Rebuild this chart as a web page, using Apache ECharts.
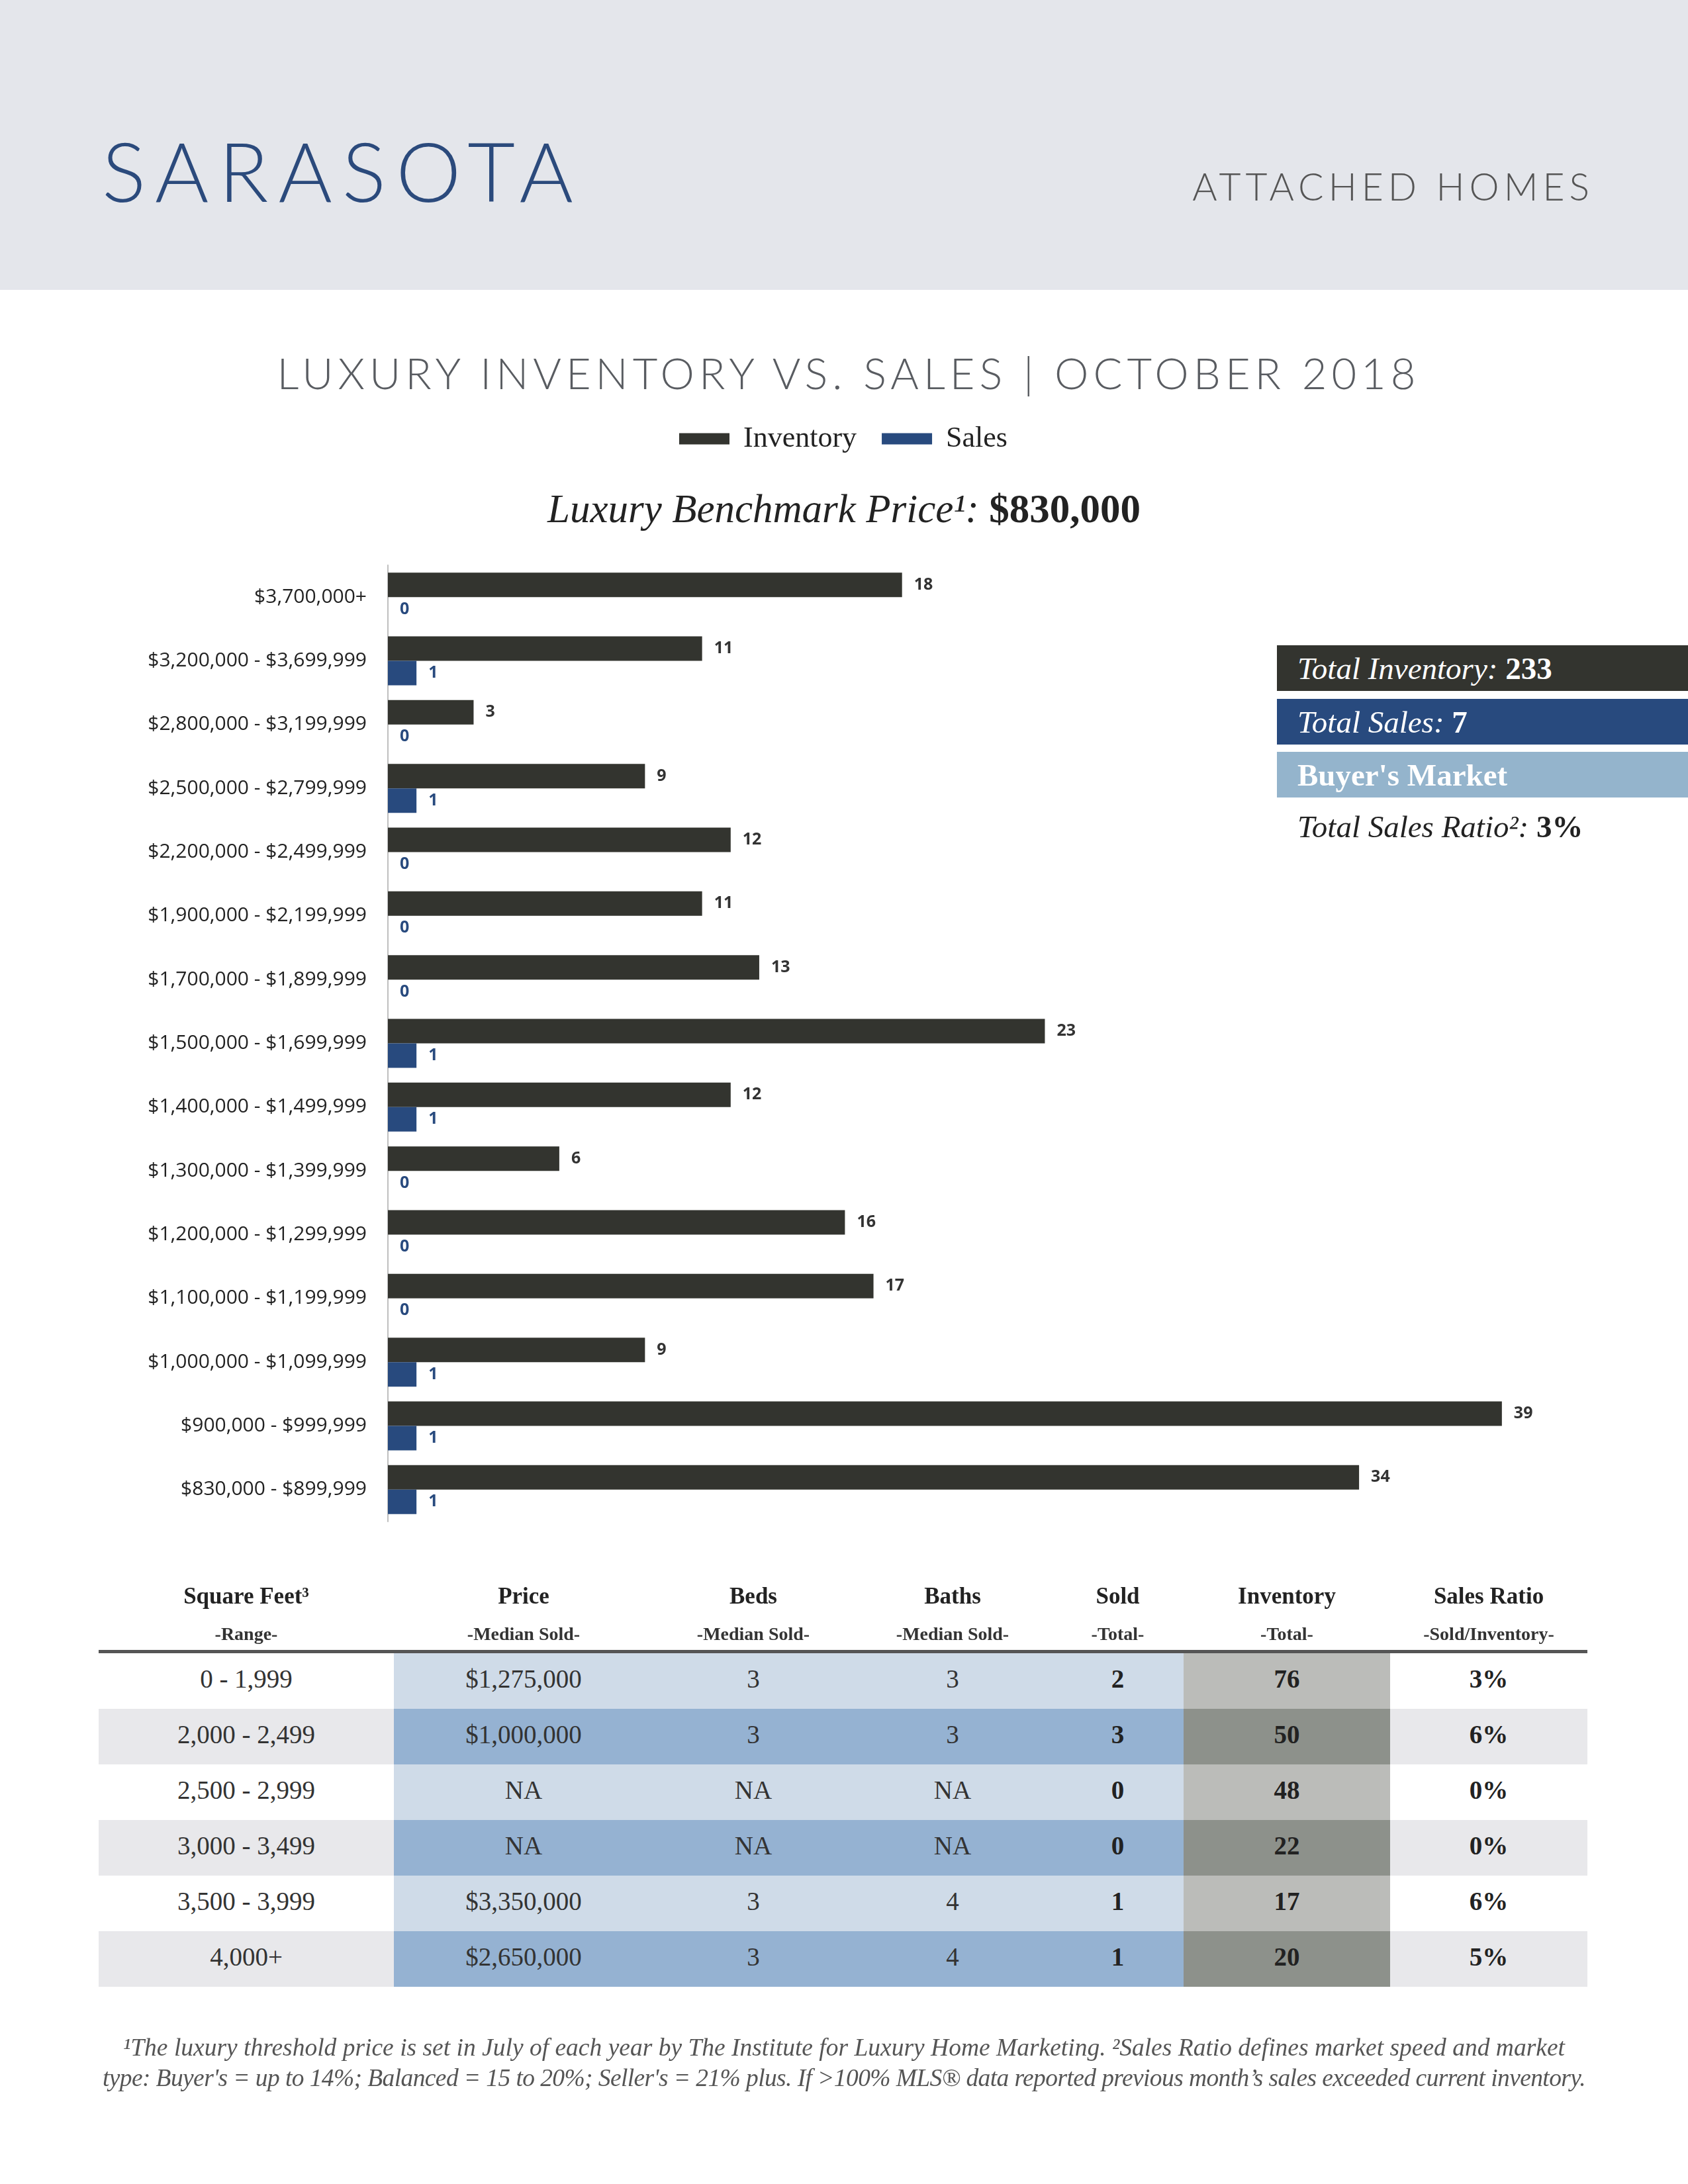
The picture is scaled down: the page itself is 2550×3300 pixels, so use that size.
<!DOCTYPE html>
<html><head><meta charset="utf-8">
<script src="https://cdn.jsdelivr.net/npm/echarts@6/dist/echarts.min.js"></script>
<style>
html,body{margin:0;padding:0;width:2550px;height:3300px;background:#fff;overflow:hidden}
#band{position:absolute;left:0;top:0;width:2550px;height:438px;background:#e4e6eb;z-index:0}
#chart{position:absolute;left:0;top:0;width:2550px;height:3300px;z-index:1}
.t{position:absolute;line-height:1;white-space:nowrap;z-index:2}
.serif{font-family:"Liberation Serif","Times New Roman",serif}
.box{position:absolute;left:1929px;width:621px;height:69px;z-index:2;display:flex;align-items:center;box-sizing:border-box;padding-left:31px;font-family:"Liberation Serif",serif;font-size:47px;color:#fff;white-space:nowrap}
.cell{position:absolute;z-index:2;display:flex;align-items:center;justify-content:center;font-family:"Liberation Serif",serif;white-space:nowrap;box-sizing:border-box}
</style></head>
<body>
<div id="band"></div>
<div id="chart"></div>
<div class="t" style="left:154px;top:195px;font-family:Lato,sans-serif;font-weight:300;font-size:124px;letter-spacing:15px;color:#2b4a7c">SARASOTA</div>
<div class="t" style="right:142px;top:253px;font-family:Lato,sans-serif;font-weight:300;font-size:57px;letter-spacing:7px;color:#555">ATTACHED HOMES</div>
<div class="t" style="left:7px;width:2550px;text-align:center;top:531px;font-family:Lato,sans-serif;font-weight:300;font-size:65px;letter-spacing:7px;color:#595c61">LUXURY INVENTORY VS. SALES | OCTOBER 2018</div>
<div class="t serif" style="left:0;width:2550px;text-align:center;top:738px;font-size:61px;color:#222"><i>Luxury Benchmark Price¹:</i> <b>$830,000</b></div>

<div class="box" style="top:975px;background:#33342f"><i>Total Inventory:</i>&nbsp;<b>233</b></div>
<div class="box" style="top:1056px;background:#284a7e"><i>Total Sales:</i>&nbsp;<b>7</b></div>
<div class="box" style="top:1136px;background:#94b4cc"><b>Buyer's Market</b></div>
<div class="box" style="top:1214px;color:#222"><i>Total Sales Ratio²:</i>&nbsp;<b>3%</b></div>

<div id="table"></div>

<div class="t serif" style="left:0;width:2550px;text-align:center;top:3075px;font-size:37.5px;color:#555;font-style:italic">¹The luxury threshold price is set in July of each year by The Institute for Luxury Home Marketing. ²Sales Ratio defines market speed and market</div>
<div class="t serif" style="left:0;width:2550px;text-align:center;top:3121px;font-size:37.5px;letter-spacing:-0.6px;color:#555;font-style:italic">type: Buyer's = up to 14%; Balanced = 15 to 20%; Seller's = 21% plus. If &gt;100% MLS® data reported previous month’s sales exceeded current inventory.</div>

<script>
// ---- chart data ----
var categories = ['$3,700,000+','$3,200,000 - $3,699,999','$2,800,000 - $3,199,999','$2,500,000 - $2,799,999','$2,200,000 - $2,499,999','$1,900,000 - $2,199,999','$1,700,000 - $1,899,999','$1,500,000 - $1,699,999','$1,400,000 - $1,499,999','$1,300,000 - $1,399,999','$1,200,000 - $1,299,999','$1,100,000 - $1,199,999','$1,000,000 - $1,099,999','$900,000 - $999,999','$830,000 - $899,999'];
var inventory = [18,11,3,9,12,11,13,23,12,6,16,17,9,39,34];
var sales = [0,1,0,1,0,0,0,1,1,0,0,0,1,1,1];

// ---- table data ----
var tableHeaders = ['Square Feet³','Price','Beds','Baths','Sold','Inventory','Sales Ratio'];
var tableSubHeaders = ['-Range-','-Median Sold-','-Median Sold-','-Median Sold-','-Total-','-Total-','-Sold/Inventory-'];
var sqftRange = ['0 - 1,999','2,000 - 2,499','2,500 - 2,999','3,000 - 3,499','3,500 - 3,999','4,000+'];
var medianPrice = ['$1,275,000','$1,000,000','NA','NA','$3,350,000','$2,650,000'];
var medianBeds = ['3','3','NA','NA','3','3'];
var medianBaths = ['3','3','NA','NA','4','4'];
var soldTotal = ['2','3','0','0','1','1'];
var inventoryTotal = ['76','50','48','22','17','20'];
var salesRatio = ['3%','6%','0%','0%','6%','5%'];

// ---- table layout ----
(function(){
  var colX = [149,595,987,1289,1589,1788,2100,2398];
  var rowTop0 = 2498, rowH = 84;
  var cols = [sqftRange,medianPrice,medianBeds,medianBaths,soldTotal,inventoryTotal,salesRatio];
  var t = document.getElementById('table');
  var html = '';
  for (var c=0;c<7;c++){
    var l = colX[c], w = colX[c+1]-colX[c];
    html += '<div class="cell" style="left:'+l+'px;width:'+w+'px;top:2390px;height:44px;font-size:35px;font-weight:bold;color:#222">'+tableHeaders[c]+'</div>';
    html += '<div class="cell" style="left:'+l+'px;width:'+w+'px;top:2452px;height:34px;font-size:28px;font-weight:bold;color:#333">'+tableSubHeaders[c]+'</div>';
  }
  html += '<div class="cell" style="left:149px;width:2249px;top:2493px;height:5px;background:#555"></div>';
  for (var r=0;r<6;r++){
    var even = (r%2===1);
    for (var c=0;c<7;c++){
      var bg;
      if (c===0||c===6) bg = even?'#e8e8eb':'#ffffff';
      else if (c===5) bg = even?'#8d918b':'#bbbcb9';
      else bg = even?'#95b2d2':'#cfdbe8';
      var bold = c>=4;
      html += '<div class="cell" style="left:'+colX[c]+'px;width:'+(colX[c+1]-colX[c])+'px;top:'+(rowTop0+r*rowH)+'px;height:'+rowH+'px;padding-bottom:8px;background:'+bg+';font-size:39px;color:'+(bold?'#222':'#333')+';font-weight:'+(bold?'bold':'normal')+'">'+cols[c][r]+'</div>';
    }
  }
  t.innerHTML = html;
})();

var chart = echarts.init(document.getElementById('chart'), null, {renderer:'canvas'});
var option = {
  animation:false,
  backgroundColor:'transparent',
  legend:{
    data:['Inventory','Sales'], left:1021, top:636, icon:'rect', itemWidth:76, itemHeight:17, itemGap:38,
    textStyle:{fontFamily:'Liberation Serif', fontSize:44, color:'#222', padding:[0,0,0,16]}
  },
  grid:{left:586, top:854, right:238, bottom:1001, containLabel:false},
  xAxis:{type:'value', min:0, max:40, show:false},
  yAxis:[
    {type:'category', inverse:true, data:categories, position:'left',
     axisLine:{lineStyle:{color:'#bfbfbf', width:2}},
     axisTick:{length:11, lineStyle:{color:'#bfbfbf', width:2}},
     axisLabel:{margin:32, fontFamily:'Open Sans', fontSize:30, color:'#222'},
     splitLine:{show:false}},
    {type:'category', inverse:true, data:categories, position:'left',
     axisLine:{show:false},
     axisTick:{inside:true, length:11, lineStyle:{color:'#bfbfbf', width:2}},
     axisLabel:{show:false}, splitLine:{show:false}}
  ],
  series:[
    {name:'Inventory', type:'bar', data:inventory, barWidth:37, barGap:'0%',
     itemStyle:{color:'#33342f'},
     label:{show:true, position:'right', distance:18, fontFamily:'Open Sans', fontWeight:'bold', fontSize:25, color:'#333'}},
    {name:'Sales', type:'bar', data:sales, barWidth:37, barGap:'0%',
     itemStyle:{color:'#284a7e'},
     label:{show:true, position:'right', distance:18, fontFamily:'Open Sans', fontWeight:'bold', fontSize:25, color:'#284a7e'}}
  ]
};
chart.setOption(option);
</script>
</body></html>
